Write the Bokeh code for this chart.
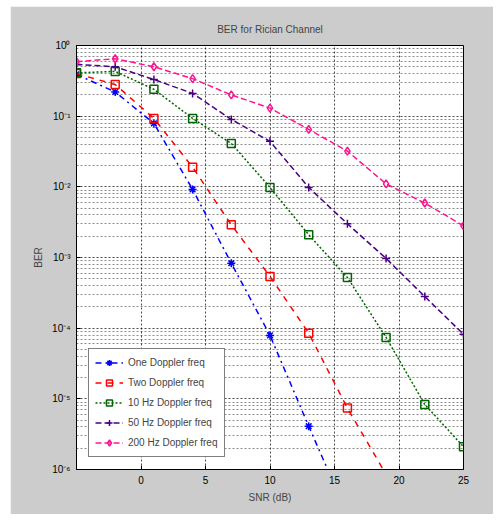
from bokeh.plotting import figure
from bokeh.models import Range1d, FixedTicker, CustomJSTickFormatter
from bokeh.embed import file_html
from bokeh.resources import INLINE

snr = [-5, -2, 1, 4, 7, 10, 13, 16, 19, 22, 25]
x_ticks = [0, 5, 10, 15, 20, 25]
y_ticks = [1e-6, 1e-5, 1e-4, 1e-3, 1e-2, 1e-1, 1]

ber_one = [0.39, 0.22, 0.079, 0.0092, 8.3e-4, 7.9e-5, 4.1e-6, 2.3e-7]
ber_two = [0.40, 0.28, 0.093, 0.019, 2.9e-3, 5.4e-4, 8.5e-5, 7.4e-6, 8.5e-7]
ber_10 = [0.41, 0.43, 0.24, 0.093, 0.041, 0.0098, 2.1e-3, 5.2e-4, 7.4e-5, 8.3e-6, 2.1e-6]
ber_50 = [0.54, 0.50, 0.33, 0.21, 0.090, 0.044, 0.0098, 3.0e-3, 9.7e-4, 2.8e-4, 8.2e-5]
ber_200 = [0.59, 0.65, 0.50, 0.34, 0.20, 0.13, 0.065, 0.032, 0.011, 5.9e-3, 2.8e-3]

labels = ["One Doppler freq", "Two Doppler freq", "10 Hz Doppler freq",
          "50 Hz Doppler freq", "200 Hz Doppler freq"]

FONT = "Liberation Sans"
BG = "#cccccc"

p = figure(width=483, height=508, output_backend="svg", toolbar_location=None,
           y_axis_type="log", x_range=Range1d(-5, 25), y_range=Range1d(1e-6, 1),
           title="BER for Rician Channel",
           min_border_left=66, min_border_right=30, min_border_top=39, min_border_bottom=45)
p.margin = (6, 0, 0, 10)
p.border_fill_color = BG
p.background_fill_color = "white"
p.outline_line_color = "black"
p.outline_line_width = 1

p.title.align = "center"
p.title.text_font = FONT
p.title.text_font_size = "10px"
p.title.text_font_style = "normal"
p.title.standoff = 22

minor = [m * 10.0 ** e for e in range(-6, 0) for m in range(2, 10)]
p.yaxis.ticker = FixedTicker(ticks=y_ticks, minor_ticks=minor)
p.xaxis.ticker = FixedTicker(ticks=x_ticks)
p.yaxis.formatter = CustomJSTickFormatter(code="""
const e = Math.round(Math.log10(tick));
const sup = {'-':'\u207b','0':'\u2070','1':'\u00b9','2':'\u00b2','3':'\u00b3','4':'\u2074','5':'\u2075','6':'\u2076','7':'\u2077','8':'\u2078','9':'\u2079'};
return '10' + String(e).split('').map(c => sup[c]).join('');
""")

for ax in (p.xaxis, p.yaxis):
    ax.axis_line_color = "black"
    ax.major_tick_in = 4
    ax.major_tick_out = 0
    ax.minor_tick_in = 0
    ax.minor_tick_out = 0
    ax.major_label_text_font = FONT
    ax.major_label_text_font_size = "10px"
    ax.major_label_text_color = "black"
    ax.axis_label_text_font = FONT
    ax.axis_label_text_font_size = "10px"
    ax.axis_label_text_font_style = "normal"
p.xaxis.axis_label = "SNR (dB)"
p.yaxis.axis_label = "BER"
p.xaxis.major_label_standoff = 6
p.yaxis.major_label_standoff = 6

p.xgrid.grid_line_color = "black"
p.xgrid.grid_line_dash = "2 2"
p.xgrid.grid_line_alpha = 0.7
p.ygrid.grid_line_color = "black"
p.ygrid.grid_line_dash = "2 2"
p.ygrid.grid_line_alpha = 0.7
p.ygrid.minor_grid_line_color = "black"
p.ygrid.minor_grid_line_dash = "2 2"
p.ygrid.minor_grid_line_alpha = 0.45

series = [
    (ber_one, "#0000ff", "dashdot", "asterisk", labels[0]),
    (ber_two, "#ff0000", "dashed", "square", labels[1]),
    (ber_10, "#006400", "2 2", "square", labels[2]),
    (ber_50, "#4b0082", "6 3", "cross", labels[3]),
    (ber_200, "#ff1493", "6 3", "diamond", labels[4]),
]
for ys, color, dash, marker, lab in series:
    xs = snr[:len(ys)]
    p.line(xs, ys, line_color=color, line_width=1.5, line_dash=dash, legend_label=lab)
    p.scatter(xs, ys, marker=marker, size=8, line_color=color, fill_color=None,
              line_width=1.5, legend_label=lab)

leg = p.legend[0]
leg.location = "bottom_left"
leg.margin = 12
leg.border_line_color = "black"
leg.border_line_width = 1.5
leg.background_fill_color = "white"
leg.background_fill_alpha = 1
leg.label_text_font = FONT
leg.label_text_font_size = "10px"
leg.glyph_height = 15
leg.glyph_width = 28
leg.label_height = 15
leg.spacing = 5
leg.padding = 6

open("out.html", "w").write(file_html(p, INLINE))
